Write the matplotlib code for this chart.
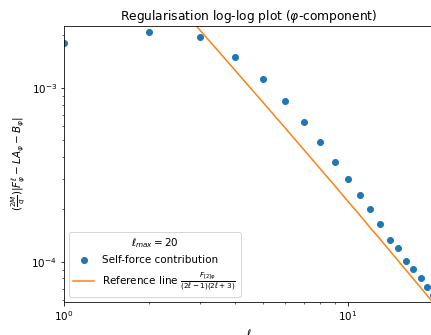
import matplotlib
matplotlib.use("Agg")
from matplotlib import pyplot as plt

# multipole number
ell = list(range(1, 21))

# self-force contribution (l = 20 sits just past the crop)
self_force = [1.81e-3, 2.08e-3, 1.95e-3, 1.51e-3, 1.127e-3, 8.39e-4, 6.36e-4,
              4.85e-4, 3.76e-4, 2.99e-4, 2.41e-4, 2.01e-4, 1.65e-4, 1.33e-4,
              1.19e-4, 1.008e-4, 9.1e-5, 8.03e-5, 7.13e-5, 6.4e-5]

# reference line values at each l
ref_line = [1.94e-2, 4.62e-3, 2.156e-3, 1.26e-3, 8.29e-4, 5.88e-4, 4.39e-4,
            3.40e-4, 2.72e-4, 2.22e-4, 1.85e-4, 1.56e-4, 1.34e-4, 1.16e-4,
            1.014e-4, 8.94e-5, 7.94e-5, 7.11e-5, 6.39e-5, 5.78e-5]

plt.rcParams['font.size'] = 10.4

W, H, DPI = 431, 335, 72
fig = plt.figure(figsize=(W / DPI, H / DPI), dpi=DPI)
# axes runs a little past the right edge, like the cropped original
ax = fig.add_axes([64 / W, 33 / H, 369.5 / W, 276.3 / H])

ax.plot(ell, self_force, 'o', color='C0', markersize=6, label='Self-force contribution')
ax.plot(ell, ref_line, '-', color='C1',
        label=r'Reference line $\frac{F_{[2]\varphi}}{(2\ell-1)(2\ell+3)}$')
ax.set_xscale('log')
ax.set_yscale('log')
ax.set_xlim(1, 20)
ax.set_ylim(5.86e-5, 2.27e-3)

ax.set_title(r'Regularisation log-log plot ($\varphi$-component)', fontsize=12.3)
ax.set_xlabel(r'$\ell$')
ax.set_ylabel(r'$(\frac{2M}{q})|F^{\ell}_{\varphi} - LA_{\varphi} - B_{\varphi}|$')
ax.legend(title=r'$\ell_{max} = 20$', loc='lower left')

fig.savefig('out.png', dpi=DPI)
